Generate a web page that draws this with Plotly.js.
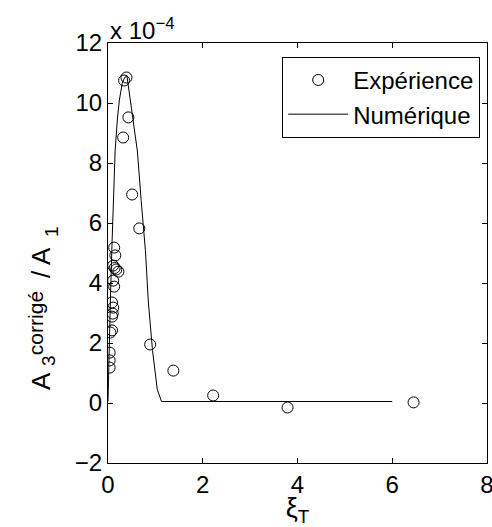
<!DOCTYPE html>
<html>
<head>
<meta charset="utf-8">
<script src="https://cdn.plot.ly/plotly-3.0.1.min.js"></script>
<style>html,body{margin:0;padding:0;background:#fff;}#chart{width:492px;height:527px;}</style>
</head>
<body>
<div id="chart"></div>
<script>
// Experimental points (xi_T, A3corr/A1 in units of 1e-4)
const expX = [0.34, 0.39, 0.32, 0.43, 0.51, 0.66, 0.89, 1.38, 2.22, 3.79, 6.45,
              0.13, 0.155, 0.11, 0.175, 0.22, 0.14, 0.11, 0.13, 0.085, 0.11, 0.10, 0.085, 0.085, 0.05, 0.035, 0.035, 0.035];
const expY = [10.75, 10.85, 8.85, 9.52, 6.95, 5.82, 1.95, 1.08, 0.25, -0.15, 0.02,
              5.18, 4.92, 4.58, 4.45, 4.38, 4.50, 4.08, 3.88, 3.35, 3.18, 2.98, 2.88, 2.42, 2.35, 1.68, 1.42, 1.18];
// Numerical curve
const numX = [0, 0.01, 0.02, 0.05, 0.08, 0.11, 0.15, 0.2, 0.24, 0.30, 0.35, 0.40, 0.47, 0.55, 0.62, 0.70, 0.79, 0.85, 0.94, 1.04, 1.13, 6.0];
const numY = [0.05, 0.9, 1.75, 3.4, 5.08, 6.75, 8.4, 9.5, 10.1, 10.65, 10.85, 10.9, 10.1, 9.2, 8.4, 6.75, 5.08, 3.4, 1.75, 0.45, 0.05, 0.05];
const xTicks = [0, 2, 4, 6, 8];
const yTicks = [-2, 0, 2, 4, 6, 8, 10, 12];
const seriesNames = ['Expérience', 'Numérique'];

const FONT = 'Liberation Sans, Arial, Helvetica, sans-serif';

const traces = [
  {x: expX, y: expY, mode: 'markers', name: seriesNames[0], type: 'scatter',
   marker: {symbol: 'circle-open', size: 11, color: '#000', line: {width: 1, color: '#000'}}},
  {x: numX, y: numY, mode: 'lines', name: seriesNames[1], type: 'scatter',
   line: {color: '#000', width: 1}}
];

const axisCommon = {
  showgrid: false, zeroline: false, showline: true, linecolor: '#000', linewidth: 1,
  mirror: 'ticks', ticks: 'inside', ticklen: 5, tickwidth: 1, tickcolor: '#000',
  ticklabeloverflow: 'allow',
  tickfont: {family: FONT, size: 24, color: '#000'}
};

const layout = {
  width: 492, height: 527,
  margin: {l: 108, r: 5, t: 43, b: 64},
  paper_bgcolor: '#fff', plot_bgcolor: '#fff',
  showlegend: true,
  legend: {x: 0.982, y: 0.967, xanchor: 'right', yanchor: 'top', itemwidth: 60,
           bordercolor: '#000', borderwidth: 1, bgcolor: '#fff',
           font: {family: FONT, size: 24, color: '#000'}},
  xaxis: Object.assign({}, axisCommon, {range: [0, 8], tickvals: xTicks,
           title: {text: 'ξ<sub>T</sub>', font: {family: FONT, size: 27, color: '#000'}, standoff: 0}}),
  yaxis: Object.assign({}, axisCommon, {range: [-2, 12], tickvals: yTicks}),
  annotations: [
    {xref: 'paper', yref: 'paper', x: 0, y: 1, xanchor: 'left', yanchor: 'bottom', yshift: -3,
     text: 'x 10<sup>−4</sup>', showarrow: false, font: {family: FONT, size: 24, color: '#000'}},
    // y-axis label pieces (stacked sub/superscript)
    {xref: 'paper', yref: 'paper', x: (41 - 108) / 379.7, y: (463 - 381) / 420, xanchor: 'center', yanchor: 'middle',
     text: 'A', textangle: -90, showarrow: false, font: {family: FONT, size: 26, color: '#000'}},
    {xref: 'paper', yref: 'paper', x: (48 - 108) / 379.7, y: (463 - 361) / 420, xanchor: 'center', yanchor: 'middle',
     text: '3', textangle: -90, showarrow: false, font: {family: FONT, size: 19, color: '#000'}},
    {xref: 'paper', yref: 'paper', x: (35 - 108) / 379.7, y: (463 - 323) / 420, xanchor: 'center', yanchor: 'middle',
     text: 'corrigé', textangle: -90, showarrow: false, font: {family: FONT, size: 21, color: '#000'}},
    {xref: 'paper', yref: 'paper', x: (41 - 108) / 379.7, y: (463 - 263) / 420, xanchor: 'center', yanchor: 'middle',
     text: '/ A', textangle: -90, showarrow: false, font: {family: FONT, size: 26, color: '#000'}},
    {xref: 'paper', yref: 'paper', x: (52 - 108) / 379.7, y: (463 - 232) / 420, xanchor: 'center', yanchor: 'middle',
     text: '1', textangle: -90, showarrow: false, font: {family: FONT, size: 19, color: '#000'}}
  ]
};

Plotly.newPlot('chart', traces, layout, {displayModeBar: false, staticPlot: true});
</script>
</body>
</html>
